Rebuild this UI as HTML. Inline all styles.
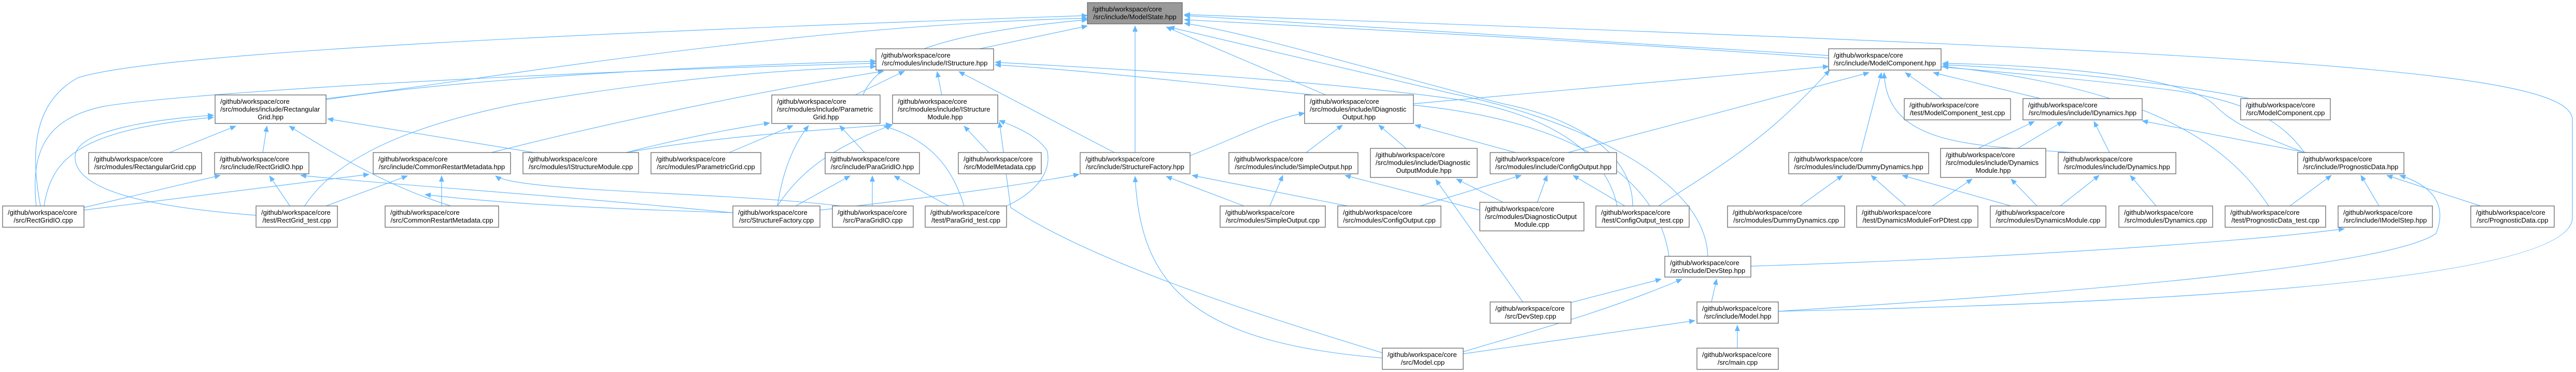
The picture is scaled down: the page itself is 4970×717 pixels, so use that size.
<!DOCTYPE html>
<html><head><meta charset="utf-8"><style>
html,body{margin:0;padding:0;background:#fff;}
svg{display:block;}
text{font-family:"Liberation Sans",Arial,sans-serif;font-size:13px;fill:#000;}
.n{fill:#fff;stroke:#666;stroke-width:1.3;}
.r{fill:#999;stroke:#666;stroke-width:1.3;}
.e{fill:none;stroke:#63b8ff;stroke-width:1.2;marker-end:url(#a);}
.m{text-anchor:middle;}
</style></head><body>
<svg width="4970" height="717" viewBox="0 0 4970 717" xmlns="http://www.w3.org/2000/svg">
<defs><marker id="a" markerUnits="userSpaceOnUse" markerWidth="12" markerHeight="10" refX="11" refY="5" orient="auto"><polygon points="0,0 12,5 0,10" fill="#63b8ff"/></marker></defs>
<g>
<!-- root edges -->
<path class="e" d="M3528,107 L2285,30"/>
<path class="e" d="M3431,600 C3900,590 4960,560 4963,420 L4963,230 C4960,130 4300,100 2285,28"/>
<path class="e" d="M4446,294 C4400,230 4330,195 4200,175 C3700,110 2700,60 2285,38"/>
<path class="e" d="M3150,397 C3150,300 3050,230 2900,200 C2700,150 2400,60 2285,45"/>
<path class="e" d="M3295,494 C3290,330 3000,220 2800,180 L2255,52"/>
<path class="e" d="M1890,94 L2098,50"/>
<path class="e" d="M629,190 C900,160 1500,50 2098,35"/>
<path class="e" d="M78,397 C60,300 60,200 150,150 C300,100 1200,60 2098,30"/>
<path class="e" d="M1665,183 C1700,100 1850,60 2098,38"/>
<path class="e" d="M2190,294 L2190,50"/>
<path class="e" d="M2558,183 L2250,52"/>
<!-- IStructure -->
<path class="e" d="M629,192 C900,150 1400,125 1690,118"/>
<path class="e" d="M70,398 C60,300 80,230 200,205 C350,180 1000,140 1690,122"/>
<path class="e" d="M587,398 C650,300 800,240 1000,200 C1300,150 1500,135 1690,128"/>
<path class="e" d="M1650,183 L1745,137"/>
<path class="e" d="M1817,183 L1808,138"/>
<path class="e" d="M2150,294 L1850,138"/>
<path class="e" d="M948,294 C1200,230 1500,170 1705,137"/>
<path class="e" d="M3120,397 C3100,300 3000,220 2800,190 C2500,150 2100,130 1920,120"/>
<path class="e" d="M3220,494 C3200,350 3050,230 2700,200 C2400,170 2100,135 1920,125"/>
<!-- ModelComponent -->
<path class="e" d="M2727,200 L3528,128"/>
<path class="e" d="M3590,294 L3630,140"/>
<path class="e" d="M3997,294 C3800,280 3640,280 3635,140"/>
<path class="e" d="M3747,190 L3676,140"/>
<path class="e" d="M3937,190 L3730,140"/>
<path class="e" d="M3025,294 L3606,140"/>
<path class="e" d="M4446,294 C4330,250 4300,230 4270,200 C4200,140 3900,125 3748,122"/>
<path class="e" d="M4340,190 C4200,160 3900,130 3748,125"/>
<path class="e" d="M4377,397 C4300,280 4150,170 3748,128"/>
<path class="e" d="M3200,397 C3300,330 3400,280 3530,135"/>
<!-- IDynamics -->
<path class="e" d="M3800,294 L3925,234"/>
<path class="e" d="M3893,286 L3980,234"/>
<path class="e" d="M4070,294 L4040,234"/>
<path class="e" d="M4450,294 L4133,233"/>
<!-- DummyDynamics -->
<path class="e" d="M3473,397 L3555,338"/>
<path class="e" d="M3677,397 L3610,338"/>
<path class="e" d="M3880,397 L3670,338"/>
<!-- DynamicsModule.hpp -->
<path class="e" d="M3728,397 L3805,345"/>
<path class="e" d="M3930,397 L3880,345"/>
<!-- Dynamics.hpp -->
<path class="e" d="M3975,397 L4050,338"/>
<path class="e" d="M4160,397 L4110,338"/>
<!-- PrognosticData -->
<path class="e" d="M4418,397 L4498,338"/>
<path class="e" d="M4590,397 L4555,338"/>
<path class="e" d="M4786,397 L4605,338"/>
<path class="e" d="M3431,600 C3900,570 4600,520 4700,450 C4720,400 4700,360 4630,338"/>
<!-- IModelStep -->
<path class="e" d="M3378,513 C3800,500 4300,470 4523,441"/>
<!-- IDiagnosticOutput -->
<path class="e" d="M2520,294 L2590,241"/>
<path class="e" d="M2713,286 L2660,241"/>
<path class="e" d="M2924,294 L2730,241"/>
<path class="e" d="M2296,300 C2400,260 2450,230 2517,218"/>
<!-- SimpleOutput.hpp -->
<path class="e" d="M2450,397 L2475,338"/>
<path class="e" d="M2855,405 L2595,338"/>
<!-- DiagnosticOutputModule.hpp -->
<path class="e" d="M2900,390 L2810,345"/>
<path class="e" d="M2938,582 L2770,346"/>
<!-- ConfigOutput.hpp -->
<path class="e" d="M2740,397 L2935,338"/>
<path class="e" d="M2966,390 L2985,338"/>
<path class="e" d="M3135,397 L3035,338"/>
<!-- DevStep.hpp -->
<path class="e" d="M3031,583 L3205,538"/>
<path class="e" d="M2823,678 C2950,640 3100,600 3245,538"/>
<path class="e" d="M3302,582 L3312,538"/>
<!-- Model.hpp -->
<path class="e" d="M2823,682 L3270,618"/>
<path class="e" d="M3352,671 L3352,627"/>
<!-- StructureFactory.hpp -->
<path class="e" d="M1582,405 C1800,380 1950,360 2082,336"/>
<path class="e" d="M2400,397 L2250,340"/>
<path class="e" d="M2600,397 L2300,338"/>
<path class="e" d="M2667,690 C2300,660 2200,550 2190,340"/>
<!-- IStructureModule.hpp -->
<path class="e" d="M1908,294 L1860,243"/>
<path class="e" d="M1942,397 C2000,370 2030,330 2020,290 C2000,260 1960,245 1928,232"/>
<path class="e" d="M1208,294 C1400,260 1600,250 1720,240"/>
<path class="e" d="M1860,397 C1840,330 1800,270 1705,243"/>
<path class="e" d="M1500,397 C1550,320 1620,280 1722,240"/>
<path class="e" d="M2700,690 C2400,600 2100,500 1950,400 C1940,330 1935,280 1928,235"/>
<!-- ParametricGrid.hpp -->
<path class="e" d="M1208,294 C1300,270 1400,250 1485,237"/>
<path class="e" d="M1407,294 L1530,242"/>
<path class="e" d="M1500,397 C1510,330 1530,280 1560,242"/>
<path class="e" d="M1668,294 L1620,242"/>
<!-- ParaGridIO.hpp -->
<path class="e" d="M1683,397 L1683,339"/>
<path class="e" d="M1830,397 L1725,339"/>
<path class="e" d="M1535,397 L1640,339"/>
<!-- RectangularGrid.hpp -->
<path class="e" d="M327,294 L455,243"/>
<path class="e" d="M507,294 L515,243"/>
<path class="e" d="M494,415 C300,400 140,370 145,300 C150,250 300,230 412,222"/>
<path class="e" d="M85,397 C100,300 160,250 412,226"/>
<path class="e" d="M1030,294 L632,229"/>
<path class="e" d="M870,397 C750,360 650,300 558,243"/>
<!-- RectGridIO.hpp -->
<path class="e" d="M162,400 L425,338"/>
<path class="e" d="M560,398 L520,339"/>
<path class="e" d="M1414,410 C1000,370 800,360 580,338"/>
<!-- CommonRestartMetadata.hpp -->
<path class="e" d="M162,405 L712,336"/>
<path class="e" d="M626,398 L786,339"/>
<path class="e" d="M852,397 L852,339"/>
<path class="e" d="M1622,397 C1400,370 1000,370 956,339"/>
<path class="e" d="M1414,410 C1100,400 950,390 820,375"/>
</g>
<g>
<rect class="r" x="2098" y="5" width="183" height="41"/><text x="2108" y="22">/github/workspace/core</text><text class="m" x="2189.5" y="37">/src/include/ModelState.hpp</text>

<rect class="n" x="1690" y="94" width="227" height="41"/><text x="1700" y="111">/github/workspace/core</text><text class="m" x="1803.5" y="126">/src/modules/include/IStructure.hpp</text>
<rect class="n" x="3528" y="94" width="217" height="41"/><text x="3538" y="111">/github/workspace/core</text><text class="m" x="3636.5" y="126">/src/include/ModelComponent.hpp</text>

<rect class="n" x="415" y="183" width="214" height="55"/><text x="425" y="200">/github/workspace/core</text><text x="425" y="215">/src/modules/include/Rectangular</text><text class="m" x="522" y="230">Grid.hpp</text>
<rect class="n" x="1489" y="183" width="209" height="55"/><text x="1499" y="200">/github/workspace/core</text><text x="1499" y="215">/src/modules/include/Parametric</text><text class="m" x="1593.5" y="230">Grid.hpp</text>
<rect class="n" x="1722" y="183" width="203" height="55"/><text x="1732" y="200">/github/workspace/core</text><text x="1732" y="215">/src/modules/include/IStructure</text><text class="m" x="1823.5" y="230">Module.hpp</text>
<rect class="n" x="2517" y="183" width="210" height="55"/><text x="2527" y="200">/github/workspace/core</text><text x="2527" y="215">/src/modules/include/IDiagnostic</text><text class="m" x="2622" y="230">Output.hpp</text>
<rect class="n" x="3674" y="190" width="205" height="41"/><text x="3684" y="207">/github/workspace/core</text><text class="m" x="3776.5" y="222">/test/ModelComponent_test.cpp</text>
<rect class="n" x="3903" y="190" width="230" height="41"/><text x="3913" y="207">/github/workspace/core</text><text class="m" x="4018" y="222">/src/modules/include/IDynamics.hpp</text>
<rect class="n" x="4323" y="190" width="173" height="41"/><text x="4333" y="207">/github/workspace/core</text><text class="m" x="4409.5" y="222">/src/ModelComponent.cpp</text>

<rect class="n" x="171" y="294" width="218" height="41"/><text x="181" y="311">/github/workspace/core</text><text class="m" x="280" y="326">/src/modules/RectangularGrid.cpp</text>
<rect class="n" x="414" y="294" width="182" height="41"/><text x="424" y="311">/github/workspace/core</text><text class="m" x="505" y="326">/src/include/RectGridIO.hpp</text>
<rect class="n" x="720" y="294" width="265" height="41"/><text x="730" y="311">/github/workspace/core</text><text class="m" x="852.5" y="326">/src/include/CommonRestartMetadata.hpp</text>
<rect class="n" x="1009" y="294" width="223" height="41"/><text x="1019" y="311">/github/workspace/core</text><text class="m" x="1120.5" y="326">/src/modules/IStructureModule.cpp</text>
<rect class="n" x="1256" y="294" width="212" height="41"/><text x="1266" y="311">/github/workspace/core</text><text class="m" x="1362" y="326">/src/modules/ParametricGrid.cpp</text>
<rect class="n" x="1592" y="294" width="182" height="41"/><text x="1602" y="311">/github/workspace/core</text><text class="m" x="1683" y="326">/src/include/ParaGridIO.hpp</text>
<rect class="n" x="1849" y="294" width="160" height="41"/><text x="1859" y="311">/github/workspace/core</text><text class="m" x="1929" y="326">/src/ModelMetadata.cpp</text>
<rect class="n" x="2084" y="294" width="212" height="41"/><text x="2094" y="311">/github/workspace/core</text><text class="m" x="2190" y="326">/src/include/StructureFactory.hpp</text>
<rect class="n" x="2371" y="294" width="249" height="41"/><text x="2381" y="311">/github/workspace/core</text><text class="m" x="2495.5" y="326">/src/modules/include/SimpleOutput.hpp</text>
<rect class="n" x="2644" y="286" width="206" height="56"/><text x="2654" y="303">/github/workspace/core</text><text x="2654" y="318">/src/modules/include/Diagnostic</text><text class="m" x="2747" y="333">OutputModule.hpp</text>
<rect class="n" x="2875" y="294" width="244" height="41"/><text x="2885" y="311">/github/workspace/core</text><text class="m" x="2997" y="326">/src/modules/include/ConfigOutput.hpp</text>
<rect class="n" x="3451" y="294" width="270" height="41"/><text x="3461" y="311">/github/workspace/core</text><text class="m" x="3586" y="326">/src/modules/include/DummyDynamics.hpp</text>
<rect class="n" x="3744" y="286" width="203" height="56"/><text x="3754" y="303">/github/workspace/core</text><text x="3754" y="318">/src/modules/include/Dynamics</text><text class="m" x="3845.5" y="333">Module.hpp</text>
<rect class="n" x="3971" y="294" width="227" height="41"/><text x="3981" y="311">/github/workspace/core</text><text class="m" x="4084.5" y="326">/src/modules/include/Dynamics.hpp</text>
<rect class="n" x="4433" y="294" width="205" height="41"/><text x="4443" y="311">/github/workspace/core</text><text class="m" x="4535.5" y="326">/src/include/PrognosticData.hpp</text>

<rect class="n" x="5" y="397" width="157" height="41"/><text x="15" y="414">/github/workspace/core</text><text class="m" x="83.5" y="429">/src/RectGridIO.cpp</text>
<rect class="n" x="494" y="397" width="157" height="41"/><text x="504" y="414">/github/workspace/core</text><text class="m" x="572.5" y="429">/test/RectGrid_test.cpp</text>
<rect class="n" x="743" y="397" width="219" height="41"/><text x="753" y="414">/github/workspace/core</text><text class="m" x="852.5" y="429">/src/CommonRestartMetadata.cpp</text>
<rect class="n" x="1414" y="397" width="168" height="41"/><text x="1424" y="414">/github/workspace/core</text><text class="m" x="1498" y="429">/src/StructureFactory.cpp</text>
<rect class="n" x="1606" y="397" width="156" height="41"/><text x="1616" y="414">/github/workspace/core</text><text class="m" x="1684" y="429">/src/ParaGridIO.cpp</text>
<rect class="n" x="1785" y="397" width="157" height="41"/><text x="1795" y="414">/github/workspace/core</text><text class="m" x="1863.5" y="429">/test/ParaGrid_test.cpp</text>
<rect class="n" x="2354" y="397" width="203" height="41"/><text x="2364" y="414">/github/workspace/core</text><text class="m" x="2455.5" y="429">/src/modules/SimpleOutput.cpp</text>
<rect class="n" x="2581" y="397" width="199" height="41"/><text x="2591" y="414">/github/workspace/core</text><text class="m" x="2680.5" y="429">/src/modules/ConfigOutput.cpp</text>
<rect class="n" x="2855" y="390" width="201" height="55"/><text x="2865" y="407">/github/workspace/core</text><text x="2865" y="422">/src/modules/DiagnosticOutput</text><text class="m" x="2955.5" y="437">Module.cpp</text>
<rect class="n" x="3079" y="397" width="180" height="41"/><text x="3089" y="414">/github/workspace/core</text><text class="m" x="3169" y="429">/test/ConfigOutput_test.cpp</text>
<rect class="n" x="3333" y="397" width="226" height="41"/><text x="3343" y="414">/github/workspace/core</text><text class="m" x="3446" y="429">/src/modules/DummyDynamics.cpp</text>
<rect class="n" x="3582" y="397" width="234" height="41"/><text x="3592" y="414">/github/workspace/core</text><text class="m" x="3699" y="429">/test/DynamicsModuleForPDtest.cpp</text>
<rect class="n" x="3840" y="397" width="223" height="41"/><text x="3850" y="414">/github/workspace/core</text><text class="m" x="3951.5" y="429">/src/modules/DynamicsModule.cpp</text>
<rect class="n" x="4088" y="397" width="181" height="41"/><text x="4098" y="414">/github/workspace/core</text><text class="m" x="4178.5" y="429">/src/modules/Dynamics.cpp</text>
<rect class="n" x="4293" y="397" width="194" height="41"/><text x="4303" y="414">/github/workspace/core</text><text class="m" x="4390" y="429">/test/PrognosticData_test.cpp</text>
<rect class="n" x="4511" y="397" width="182" height="41"/><text x="4521" y="414">/github/workspace/core</text><text class="m" x="4602" y="429">/src/include/IModelStep.hpp</text>
<rect class="n" x="4767" y="397" width="161" height="41"/><text x="4777" y="414">/github/workspace/core</text><text class="m" x="4847.5" y="429">/src/PrognosticData.cpp</text>

<rect class="n" x="3212" y="494" width="166" height="40"/><text x="3222" y="511">/github/workspace/core</text><text class="m" x="3295" y="526">/src/include/DevStep.hpp</text>
<rect class="n" x="2875" y="582" width="156" height="41"/><text x="2885" y="599">/github/workspace/core</text><text class="m" x="2953" y="614">/src/DevStep.cpp</text>
<rect class="n" x="3274" y="582" width="157" height="41"/><text x="3284" y="599">/github/workspace/core</text><text class="m" x="3352.5" y="614">/src/include/Model.hpp</text>
<rect class="n" x="2667" y="671" width="156" height="41"/><text x="2677" y="688">/github/workspace/core</text><text class="m" x="2745" y="703">/src/Model.cpp</text>
<rect class="n" x="3274" y="671" width="157" height="41"/><text x="3284" y="688">/github/workspace/core</text><text class="m" x="3352.5" y="703">/src/main.cpp</text>
</g>
</svg>
</body></html>
